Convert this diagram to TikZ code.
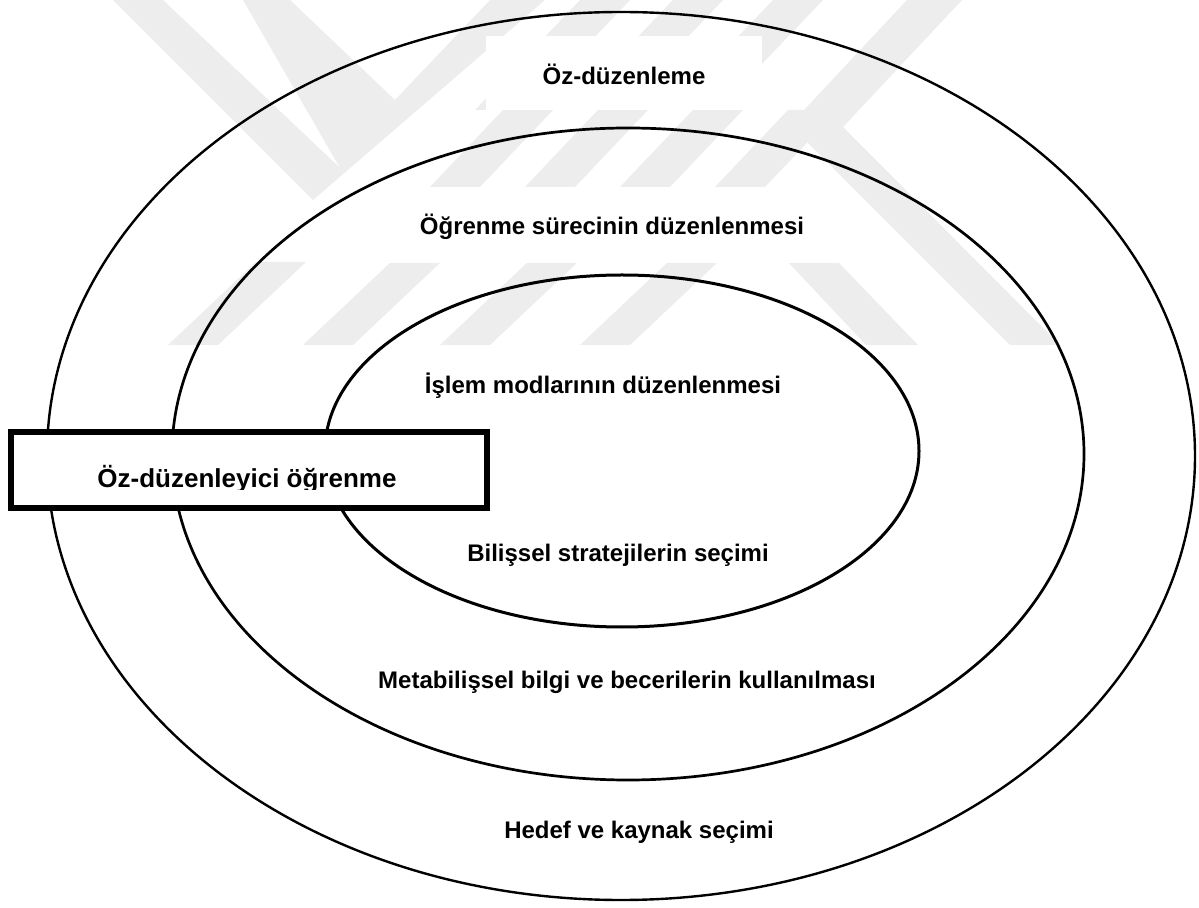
\documentclass[tikz,border=0pt]{standalone}
\usepackage{fontspec}
\setmainfont{Liberation Sans}
\begin{document}
\begin{tikzpicture}[x=0.5pt,y=-0.5pt,
  iz/.style={fill=black!7},
  etiket/.style={font=\fontsize{12}{14}\selectfont\bfseries,inner sep=0pt,anchor=base}]
  \useasboundingbox[fill=white] (0,0) rectangle (1199,908);

  % watermark, left
  \fill[iz] (113,0) -- (163,0) -- (340,168) -- (243,0) -- (290,0) -- (395,100)
    -- (490,0) -- (545,0) -- (313,200) -- cycle;
  % watermark, top stripes
  \fill[iz] (580,0) -- (630,0) -- (525,110) -- (475,110) -- cycle;
  \fill[iz] (673,0) -- (723,0) -- (618,110) -- (568,110) -- cycle;
  \fill[iz] (773,0) -- (823,0) -- (718,110) -- (668,110) -- cycle;
  \fill[iz] (503,110) -- (553,110) -- (480,187) -- (430,187) -- cycle;
  \fill[iz] (598,110) -- (648,110) -- (575,187) -- (525,187) -- cycle;
  \fill[iz] (693,110) -- (743,110) -- (670,187) -- (620,187) -- cycle;
  \fill[iz] (788,110) -- (838,110) -- (765,187) -- (715,187) -- cycle;
  % watermark, right
  \fill[iz] (907,0) -- (962,0) -- (843,127) -- (1060,345) -- (1010,345) -- (790,125) -- cycle;
  % watermark, lower stripes
  \fill[iz] (256,262) -- (306,262) -- (218,345) -- (168,345) -- cycle;
  \fill[iz] (391,262) -- (441,262) -- (353,345) -- (303,345) -- cycle;
  \fill[iz] (528,262) -- (578,262) -- (490,345) -- (440,345) -- cycle;
  \fill[iz] (668,262) -- (718,262) -- (630,345) -- (580,345) -- cycle;
  \fill[iz] (788,262) -- (838,262) -- (918,345) -- (866,345) -- cycle;

  % rings
  \coordinate (c0) at (621,456);
  \coordinate (c1) at (628,454);
  \coordinate (c2) at (622,451);
  \draw[line width=1.2pt] (c0) ellipse [x radius=287pt, y radius=222pt];
  \draw[line width=1.35pt] (c1) ellipse [x radius=228pt, y radius=163pt];
  \draw[line width=1.5pt] (c2) ellipse [x radius=148.5pt, y radius=88pt];

  % ring labels
  \node[etiket,fill=white,minimum width=138pt,text height=24.5pt,text depth=12.5pt] (l0) at (624,85) {Öz-düzenleme};
  \node[etiket,fill=white,minimum width=228.5pt,text height=23.5pt,text depth=14pt] (l1) at (612,235) {Öğrenme sürecinin düzenlenmesi};
  \node[etiket] (l2) at (603,394) {İşlem modlarının düzenlenmesi};
  \node[etiket] (l3) at (618,562) {Bilişsel stratejilerin seçimi};
  \node[etiket] (l4) at (627,688) {Metabilişsel bilgi ve becerilerin kullanılması};
  \node[etiket] (l5) at (639,838) {Hedef ve kaynak seçimi};

  % title box
  \node[draw,line width=2.6pt,fill=white,minimum width=238pt,minimum height=38pt,inner sep=0pt] (kutu) at (249,470) {};
  \begin{scope}
    \clip (kutu.north west) rectangle (487,490);
    \node[etiket,font=\fontsize{13}{15}\selectfont\bfseries] (baslik) at (247,488) {Öz-düzenleyici öğrenme};
  \end{scope}
\end{tikzpicture}
\end{document}
